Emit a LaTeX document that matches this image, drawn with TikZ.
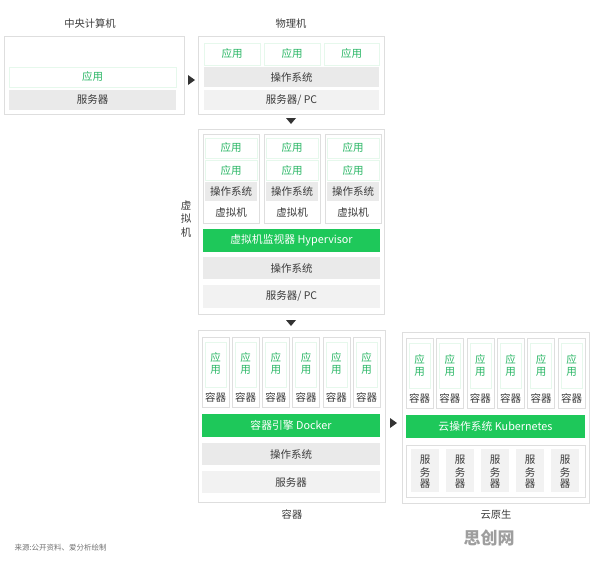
\documentclass[tikz,border=0pt]{standalone}
\usepackage{fontspec}
\setmainfont{Noto Sans CJK SC}
\definecolor{gbar}{RGB}{30,200,90}
\definecolor{gtext}{RGB}{40,182,100}
\definecolor{gline}{RGB}{230,248,236}
\definecolor{pline}{RGB}{222,222,222}
\definecolor{osfill}{RGB}{234,234,234}
\definecolor{srvfill}{RGB}{242,242,242}
\definecolor{txt}{RGB}{60,60,60}
\newcommand\bx[7]{\node[#6, inner sep=0pt, minimum width={(#4)-(#2)}, minimum height={(#5)-(#3)}] (#1) at ({((#2)+(#4))/2},{((#3)+(#5))/2}) {#7};}
\begin{document}
\begin{tikzpicture}[x=1pt,y=-1pt,
  every node/.style={font=\fontsize{10.5}{12}\selectfont, text=txt},
  panel/.style={draw=pline, fill=white, line width=0.8pt},
  colbox/.style={draw=pline, fill=white, line width=0.6pt},
  appbox/.style={draw=gline, fill=white, line width=0.6pt, text=gtext},
  osbox/.style={fill=osfill},
  srvbox/.style={fill=srvfill},
  greenbar/.style={fill=gbar, text=white, font=\fontsize{10.8}{12}\selectfont},
  title/.style={font=\fontsize{10.3}{12}\selectfont},
  tri/.style={fill=black!80}]
\useasboundingbox (0,0) rectangle (596,560);
\fill[white] (0,0) rectangle (596,560);

% Panel 1
\node[title] (t1) at (90,24) {中央计算机};
\bx{p1}{4}{36}{184}{114}{panel}{}
\bx{p1app}{9}{67}{176}{87}{appbox}{应用}
\bx{p1srv}{9}{90}{176}{110}{osbox}{服务器}

% arrow 1
\fill[tri] (188,75) -- (195,80) -- (188,85) -- cycle;

% Panel 2
\node[title] (t2) at (291,24) {物理机};
\bx{p2}{198}{36}{384}{114}{panel}{}
\bx{p2a1}{204}{43}{260}{65}{appbox}{应用}
\bx{p2a2}{264}{43}{320}{65}{appbox}{应用}
\bx{p2a3}{324}{43}{379}{65}{appbox}{应用}
\bx{p2os}{204}{67}{379}{87}{osbox}{操作系统}
\bx{p2srv}{204}{90}{379}{110}{srvbox}{服务器/ PC}

% arrow 2
\fill[tri] (286,118) -- (296,118) -- (291,124) -- cycle;

% Panel 3
\bx{p3}{198}{129}{384}{314}{panel}{}
\node[align=center, font=\fontsize{10.5}{13.5}\selectfont] (t3) at (186,219) {虚\\拟\\机};
\foreach \i/\x in {1/203,2/264,3/325}{
  \pgfmathsetmacro\xe{\x+56}
  \pgfmathsetmacro\xa{\x+2}
  \pgfmathsetmacro\xb{\x+54}
  \bx{vm\i}{\x}{134}{\xe}{223}{colbox}{}
  \bx{vm\i a1}{\xa}{138}{\xb}{158}{appbox}{应用}
  \bx{vm\i a2}{\xa}{160}{\xb}{180}{appbox}{应用}
  \bx{vm\i os}{\xa}{182}{\xb}{201}{osbox}{操作系统}
  \node (vm\i t) at ({\x+28},213) {虚拟机};
}
\bx{hyp}{203}{229}{380}{252}{greenbar}{虚拟机监视器 Hypervisor}
\bx{p3os}{203}{257}{380}{279}{osbox}{操作系统}
\bx{p3srv}{203}{285}{380}{308}{srvbox}{服务器/ PC}

% arrow 3
\fill[tri] (286,320) -- (296,320) -- (291,326) -- cycle;

% Panel 4
\bx{p4}{198}{330}{385}{502}{panel}{}
\foreach \i in {0,...,5}{
  \pgfmathsetmacro\x{202+\i*30.2}
  \pgfmathsetmacro\xe{\x+27}
  \pgfmathsetmacro\xa{\x+3}
  \pgfmathsetmacro\xb{\x+24}
  \bx{c\i}{\x}{337}{\xe}{407}{colbox}{}
  \bx{c\i a}{\xa}{342}{\xb}{387}{appbox}{}
  \node[text=gtext] (c\i y) at ({\x+13.5},357) {应};
  \node[text=gtext] (c\i u) at ({\x+13.5},370) {用};
  \node (c\i t) at ({\x+13.5},397) {容器};
}
\bx{dock}{202}{414}{380}{437}{greenbar}{容器引擎 Docker}
\bx{p4os}{202}{443}{380}{465}{osbox}{操作系统}
\bx{p4srv}{202}{471}{380}{493}{srvbox}{服务器}
\node[title] (t4) at (292,515) {容器};

% arrow 4
\fill[tri] (390,418) -- (397,423) -- (390,428) -- cycle;

% Panel 5
\bx{p5}{402}{332}{589}{503}{panel}{}
\foreach \i in {0,...,5}{
  \pgfmathsetmacro\x{406+\i*30.4}
  \pgfmathsetmacro\xe{\x+27}
  \pgfmathsetmacro\xa{\x+3}
  \pgfmathsetmacro\xb{\x+24}
  \bx{k\i}{\x}{338}{\xe}{408}{colbox}{}
  \bx{k\i a}{\xa}{343}{\xb}{388}{appbox}{}
  \node[text=gtext] (k\i y) at ({\x+13.5},359) {应};
  \node[text=gtext] (k\i u) at ({\x+13.5},372) {用};
  \node (k\i t) at ({\x+13.5},398) {容器};
}
\bx{kube}{406}{415}{585}{438}{greenbar}{云操作系统 Kubernetes}
\bx{sgrp}{406}{445}{585}{497}{colbox}{}
\foreach \i in {0,...,4}{
  \pgfmathsetmacro\x{411+\i*35}
  \pgfmathsetmacro\xe{\x+28}
  \bx{s\i}{\x}{449}{\xe}{492}{srvbox}{}
  \node (s\i a) at ({\x+14},460) {服};
  \node (s\i b) at ({\x+14},472) {务};
  \node (s\i c) at ({\x+14},484) {器};
}
\node[title] (t5) at (496,515) {云原生};

% footer
\node[anchor=west, font=\fontsize{7.5}{8}\selectfont, text=black!55] (src) at (11,548) {来源:公开资料、爱分析绘制};
\node[font=\bfseries\fontsize{17}{18}\selectfont, text=black!38] (wm) at (489,538) {思创网};
\end{tikzpicture}
\end{document}
